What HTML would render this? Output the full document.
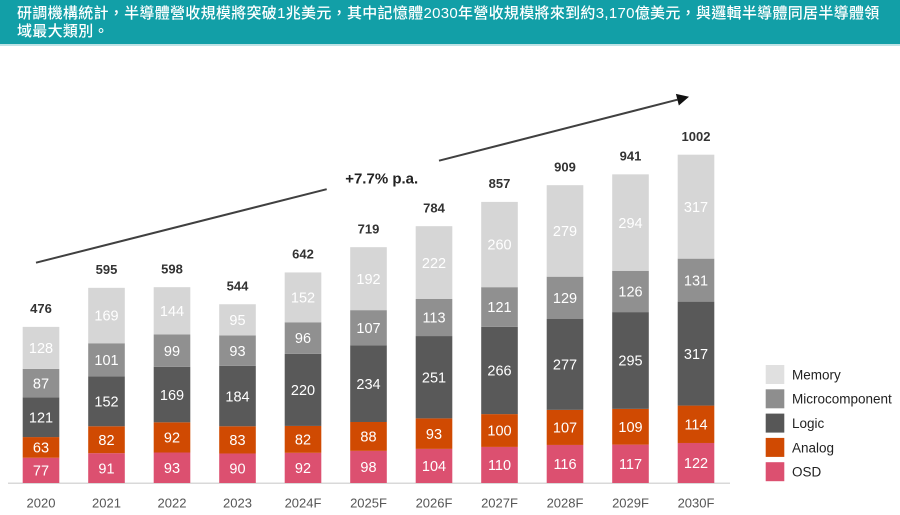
<!DOCTYPE html>
<html lang="zh-TW">
<head>
<meta charset="utf-8">
<style>
  html, body { margin:0; padding:0; background:#ffffff; }
  body { width:900px; height:515px; position:relative; overflow:hidden; }
  .hdr { position:absolute; left:0; top:0; width:900px; height:44px; background:#129fa7; }
  .hdrline { position:absolute; left:0; top:44px; width:900px; height:2px; background:#bfe3e5; }
  .hdr-text { position:absolute; left:17px; top:4.5px; color:#ffffff; font-family:"Liberation Sans","Noto Sans CJK TC",sans-serif; font-size:15px; line-height:18px; letter-spacing:0.3px; white-space:nowrap; font-weight:500; }
  svg { position:absolute; left:0; top:0; }
  .seg { font-family:"Liberation Sans",sans-serif; font-size:14.5px; fill:#ffffff; text-anchor:middle; }
  .tot { font-family:"Liberation Sans",sans-serif; font-size:13px; font-weight:bold; fill:#333333; text-anchor:middle; }
  .yr { font-family:"Liberation Sans",sans-serif; font-size:13px; fill:#555555; text-anchor:middle; }
  .lg { font-family:"Liberation Sans",sans-serif; font-size:13.5px; fill:#222222; }
</style>
</head>
<body>
<div class="hdr"></div>
<div class="hdrline"></div>
<div class="hdr-text" lang="zh-TW">研調機構統計，半導體營收規模將突破1兆美元，其中記憶體2030年營收規模將來到約3,170億美元，與邏輯半導體同居半導體領<br>域最大類別。</div>

<svg width="900" height="515" viewBox="0 0 900 515" xmlns="http://www.w3.org/2000/svg">
  <line x1="8" y1="483.3" x2="730" y2="483.3" stroke="#d9d9d9" stroke-width="1.5"/>

  <line x1="36" y1="262.7" x2="326.7" y2="189.2" stroke="#404040" stroke-width="2"/>
  <line x1="439" y1="160.7" x2="677.4" y2="99.7" stroke="#404040" stroke-width="2"/>
  <polygon points="689,96.7 678.85,105.47 675.89,93.85" fill="#111111"/>
  <text x="381.7" y="183.7" font-family="Liberation Sans, sans-serif" font-size="15" font-weight="bold" fill="#222222" text-anchor="middle">+7.7% p.a.</text>

  <g>
    <rect x="22.7" y="457.74" width="36.6" height="25.26" fill="#dc5070"/>
    <rect x="22.7" y="437.08" width="36.6" height="20.66" fill="#d04a02"/>
    <rect x="22.7" y="397.39" width="36.6" height="39.69" fill="#595959"/>
    <rect x="22.7" y="368.86" width="36.6" height="28.53" fill="#909090"/>
    <rect x="22.7" y="326.87" width="36.6" height="41.99" fill="#d6d6d6"/>
  </g>
  <g>
    <rect x="88.2" y="453.15" width="36.6" height="29.85" fill="#dc5070"/>
    <rect x="88.2" y="426.26" width="36.6" height="26.89" fill="#d04a02"/>
    <rect x="88.2" y="376.4" width="36.6" height="49.86" fill="#595959"/>
    <rect x="88.2" y="343.27" width="36.6" height="33.13" fill="#909090"/>
    <rect x="88.2" y="287.84" width="36.6" height="55.43" fill="#d6d6d6"/>
  </g>
  <g>
    <rect x="153.7" y="452.5" width="36.6" height="30.5" fill="#dc5070"/>
    <rect x="153.7" y="422.32" width="36.6" height="30.18" fill="#d04a02"/>
    <rect x="153.7" y="366.89" width="36.6" height="55.43" fill="#595959"/>
    <rect x="153.7" y="334.42" width="36.6" height="32.47" fill="#909090"/>
    <rect x="153.7" y="287.18" width="36.6" height="47.24" fill="#d6d6d6"/>
  </g>
  <g>
    <rect x="219.2" y="453.48" width="36.6" height="29.52" fill="#dc5070"/>
    <rect x="219.2" y="426.26" width="36.6" height="27.22" fill="#d04a02"/>
    <rect x="219.2" y="365.9" width="36.6" height="60.36" fill="#595959"/>
    <rect x="219.2" y="335.4" width="36.6" height="30.5" fill="#909090"/>
    <rect x="219.2" y="304.24" width="36.6" height="31.16" fill="#d6d6d6"/>
  </g>
  <g>
    <rect x="284.7" y="452.82" width="36.6" height="30.18" fill="#dc5070"/>
    <rect x="284.7" y="425.93" width="36.6" height="26.89" fill="#d04a02"/>
    <rect x="284.7" y="353.77" width="36.6" height="72.16" fill="#595959"/>
    <rect x="284.7" y="322.28" width="36.6" height="31.49" fill="#909090"/>
    <rect x="284.7" y="272.42" width="36.6" height="49.86" fill="#d6d6d6"/>
  </g>
  <g>
    <rect x="350.2" y="450.86" width="36.6" height="32.14" fill="#dc5070"/>
    <rect x="350.2" y="421.99" width="36.6" height="28.87" fill="#d04a02"/>
    <rect x="350.2" y="345.24" width="36.6" height="76.75" fill="#595959"/>
    <rect x="350.2" y="310.14" width="36.6" height="35.1" fill="#909090"/>
    <rect x="350.2" y="247.17" width="36.6" height="62.97" fill="#d6d6d6"/>
  </g>
  <g>
    <rect x="415.7" y="448.89" width="36.6" height="34.11" fill="#dc5070"/>
    <rect x="415.7" y="418.38" width="36.6" height="30.51" fill="#d04a02"/>
    <rect x="415.7" y="336.06" width="36.6" height="82.32" fill="#595959"/>
    <rect x="415.7" y="298.99" width="36.6" height="37.07" fill="#909090"/>
    <rect x="415.7" y="226.18" width="36.6" height="72.81" fill="#d6d6d6"/>
  </g>
  <g>
    <rect x="481.2" y="446.92" width="36.6" height="36.08" fill="#dc5070"/>
    <rect x="481.2" y="414.12" width="36.6" height="32.8" fill="#d04a02"/>
    <rect x="481.2" y="326.87" width="36.6" height="87.25" fill="#595959"/>
    <rect x="481.2" y="287.18" width="36.6" height="39.69" fill="#909090"/>
    <rect x="481.2" y="201.9" width="36.6" height="85.28" fill="#d6d6d6"/>
  </g>
  <g>
    <rect x="546.7" y="444.95" width="36.6" height="38.05" fill="#dc5070"/>
    <rect x="546.7" y="409.86" width="36.6" height="35.09" fill="#d04a02"/>
    <rect x="546.7" y="319" width="36.6" height="90.86" fill="#595959"/>
    <rect x="546.7" y="276.69" width="36.6" height="42.31" fill="#909090"/>
    <rect x="546.7" y="185.18" width="36.6" height="91.51" fill="#d6d6d6"/>
  </g>
  <g>
    <rect x="612.2" y="444.62" width="36.6" height="38.38" fill="#dc5070"/>
    <rect x="612.2" y="408.87" width="36.6" height="35.75" fill="#d04a02"/>
    <rect x="612.2" y="312.11" width="36.6" height="96.76" fill="#595959"/>
    <rect x="612.2" y="270.78" width="36.6" height="41.33" fill="#909090"/>
    <rect x="612.2" y="174.35" width="36.6" height="96.43" fill="#d6d6d6"/>
  </g>
  <g>
    <rect x="677.7" y="442.98" width="36.6" height="40.02" fill="#dc5070"/>
    <rect x="677.7" y="405.59" width="36.6" height="37.39" fill="#d04a02"/>
    <rect x="677.7" y="301.62" width="36.6" height="103.97" fill="#595959"/>
    <rect x="677.7" y="258.65" width="36.6" height="42.97" fill="#909090"/>
    <rect x="677.7" y="154.67" width="36.6" height="103.98" fill="#d6d6d6"/>
  </g>

  <g class="seg" transform="translate(0,5.2)">
    <text class="seg" x="41" y="470.37">77</text>
    <text class="seg" x="41" y="447.41">63</text>
    <text class="seg" x="41" y="417.24">121</text>
    <text class="seg" x="41" y="383.13">87</text>
    <text class="seg" x="41" y="347.87">128</text>

    <text class="seg" x="106.5" y="468.08">91</text>
    <text class="seg" x="106.5" y="439.71">82</text>
    <text class="seg" x="106.5" y="401.33">152</text>
    <text class="seg" x="106.5" y="359.84">101</text>
    <text class="seg" x="106.5" y="315.56">169</text>

    <text class="seg" x="172" y="467.75">93</text>
    <text class="seg" x="172" y="437.41">92</text>
    <text class="seg" x="172" y="394.61">169</text>
    <text class="seg" x="172" y="350.66">99</text>
    <text class="seg" x="172" y="310.8">144</text>

    <text class="seg" x="237.5" y="468.24">90</text>
    <text class="seg" x="237.5" y="439.87">83</text>
    <text class="seg" x="237.5" y="396.08">184</text>
    <text class="seg" x="237.5" y="350.65">93</text>
    <text class="seg" x="237.5" y="319.82">95</text>

    <text class="seg" x="303" y="467.91">92</text>
    <text class="seg" x="303" y="439.38">82</text>
    <text class="seg" x="303" y="389.85">220</text>
    <text class="seg" x="303" y="338.03">96</text>
    <text class="seg" x="303" y="297.35">152</text>

    <text class="seg" x="368.5" y="466.93">98</text>
    <text class="seg" x="368.5" y="436.43">88</text>
    <text class="seg" x="368.5" y="383.62">234</text>
    <text class="seg" x="368.5" y="327.69">107</text>
    <text class="seg" x="368.5" y="278.66">192</text>

    <text class="seg" x="434" y="465.95">104</text>
    <text class="seg" x="434" y="433.64">93</text>
    <text class="seg" x="434" y="377.22">251</text>
    <text class="seg" x="434" y="317.53">113</text>
    <text class="seg" x="434" y="262.59">222</text>

    <text class="seg" x="499.5" y="464.96">110</text>
    <text class="seg" x="499.5" y="430.52">100</text>
    <text class="seg" x="499.5" y="370.5">266</text>
    <text class="seg" x="499.5" y="307.03">121</text>
    <text class="seg" x="499.5" y="244.54">260</text>

    <text class="seg" x="565" y="463.98">116</text>
    <text class="seg" x="565" y="427.41">107</text>
    <text class="seg" x="565" y="364.43">277</text>
    <text class="seg" x="565" y="297.85">129</text>
    <text class="seg" x="565" y="230.94">279</text>

    <text class="seg" x="630.5" y="463.81">117</text>
    <text class="seg" x="630.5" y="426.75">109</text>
    <text class="seg" x="630.5" y="360.49">295</text>
    <text class="seg" x="630.5" y="291.45">126</text>
    <text class="seg" x="630.5" y="222.57">294</text>

    <text class="seg" x="696" y="462.99">122</text>
    <text class="seg" x="696" y="424.29">114</text>
    <text class="seg" x="696" y="353.61">317</text>
    <text class="seg" x="696" y="280.14">131</text>
    <text class="seg" x="696" y="206.66">317</text>
  </g>

  <g transform="translate(0,4.7)">
    <text class="tot" x="41" y="308.37">476</text>
    <text class="tot" x="106.5" y="269.34">595</text>
    <text class="tot" x="172" y="268.68">598</text>
    <text class="tot" x="237.5" y="285.74">544</text>
    <text class="tot" x="303" y="253.92">642</text>
    <text class="tot" x="368.5" y="228.67">719</text>
    <text class="tot" x="434" y="207.68">784</text>
    <text class="tot" x="499.5" y="183.4">857</text>
    <text class="tot" x="565" y="166.68">909</text>
    <text class="tot" x="630.5" y="155.85">941</text>
    <text class="tot" x="696" y="136.17">1002</text>
  </g>

  <g>
    <text class="yr" x="41" y="507.7">2020</text>
    <text class="yr" x="106.5" y="507.7">2021</text>
    <text class="yr" x="172" y="507.7">2022</text>
    <text class="yr" x="237.5" y="507.7">2023</text>
    <text class="yr" x="303" y="507.7">2024F</text>
    <text class="yr" x="368.5" y="507.7">2025F</text>
    <text class="yr" x="434" y="507.7">2026F</text>
    <text class="yr" x="499.5" y="507.7">2027F</text>
    <text class="yr" x="565" y="507.7">2028F</text>
    <text class="yr" x="630.5" y="507.7">2029F</text>
    <text class="yr" x="696" y="507.7">2030F</text>
  </g>

  <g>
    <rect x="765.7" y="365" width="18.6" height="19" fill="#e0e0e0"/>
    <rect x="765.7" y="389.3" width="18.6" height="19" fill="#8e8e8e"/>
    <rect x="765.7" y="413.6" width="18.6" height="19" fill="#575757"/>
    <rect x="765.7" y="437.9" width="18.6" height="19" fill="#d04a02"/>
    <rect x="765.7" y="462.2" width="18.6" height="19" fill="#dc5070"/>
    <text class="lg" x="792" y="379.4">Memory</text>
    <text class="lg" x="792" y="403.7">Microcomponent</text>
    <text class="lg" x="792" y="428">Logic</text>
    <text class="lg" x="792" y="452.3">Analog</text>
    <text class="lg" x="792" y="476.6">OSD</text>
  </g>
</svg>
</body>
</html>
